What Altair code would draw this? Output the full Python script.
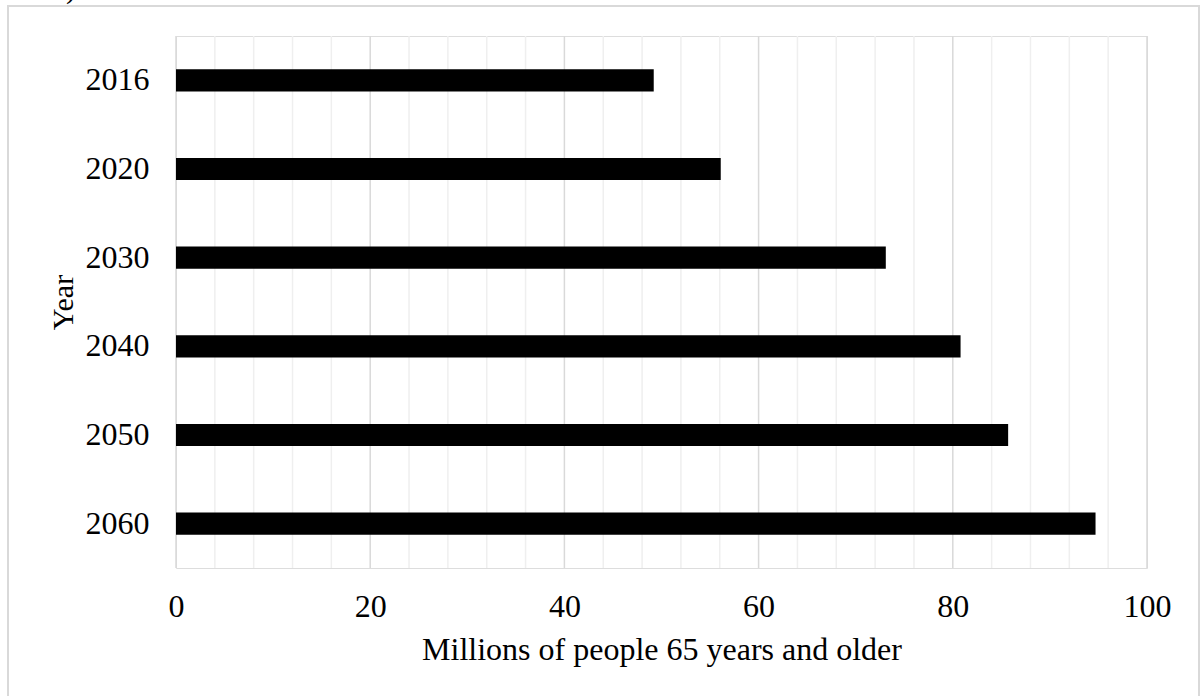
import altair as alt
import pandas as pd

years = ["2016", "2020", "2030", "2040", "2050", "2060"]
values = [49.2, 56.1, 73.1, 80.8, 85.7, 94.7]
major_ticks = [0, 20, 40, 60, 80, 100]
minor_ticks = [v for v in range(0, 101, 4) if v % 20 != 0]

FONT = "Liberation Serif"
W, H = 971, 532

bars_df = pd.DataFrame({"Year": years, "Value": values})
minor_df = pd.DataFrame({"x": minor_ticks})
major_df = pd.DataFrame({"x": major_ticks})

xscale = alt.Scale(domain=[0, 100], nice=False)
x_axis = alt.Axis(
    title="Millions of people 65 years and older", values=major_ticks,
    domain=False, ticks=False, grid=False, labelFlush=False,
    labelFont=FONT, labelFontSize=32, labelColor="black", labelPadding=23,
    titleFont=FONT, titleFontSize=32, titleColor="black", titleFontWeight="normal",
    titleY=91, titleAlign="center", titleBaseline="alphabetic",
)

border = alt.Chart(pd.DataFrame({"a": [0]})).mark_rect(
    fill=None, stroke="#d9d9d9", strokeWidth=2
).encode(
    x=alt.value(-168), x2=alt.value(1023), y=alt.value(-30), y2=alt.value(670)
)

stray = alt.Chart(pd.DataFrame({"t": [")"]})).mark_text(
    font=FONT, fontSize=30, align="left", baseline="alphabetic", color="black"
).encode(text="t:N", x=alt.value(-110), y=alt.value(-38))

minor = alt.Chart(minor_df).mark_rule(color="#efefef", strokeWidth=1.5).encode(
    x=alt.X("x:Q", scale=xscale, axis=x_axis, title="Millions of people 65 years and older"),
    y=alt.value(0), y2=alt.value(H),
)
major = alt.Chart(major_df).mark_rule(color="#d9d9d9", strokeWidth=1.5).encode(
    x=alt.X("x:Q", scale=xscale, axis=x_axis, title="Millions of people 65 years and older"),
    y=alt.value(0), y2=alt.value(H),
)

bars = alt.Chart(bars_df).mark_bar(color="black").encode(
    y=alt.Y(
        "Year:N", sort=years,
        scale=alt.Scale(paddingInner=0.75, paddingOuter=0.375),
        axis=alt.Axis(
            title="Year", domain=False, ticks=False, grid=False,
            labelFont=FONT, labelFontSize=32, labelColor="black", labelPadding=27,
            titleFont=FONT, titleFontSize=30, titleColor="black", titleFontWeight="normal",
            titleAngle=-90, titleX=-104, titleBaseline="alphabetic",
        ),
    ),
    x=alt.X("Value:Q", scale=xscale, axis=x_axis, title="Millions of people 65 years and older"),
)

chart = alt.layer(border, stray, minor, major, bars).properties(
    width=W, height=H,
    autosize=alt.AutoSizeParams(type="none"),
    padding={"left": 176, "top": 36, "right": 53, "bottom": 128},
).configure_view(stroke=None).configure(background="white")

chart.save("out.html", embed_options={"renderer": "svg", "actions": False})
